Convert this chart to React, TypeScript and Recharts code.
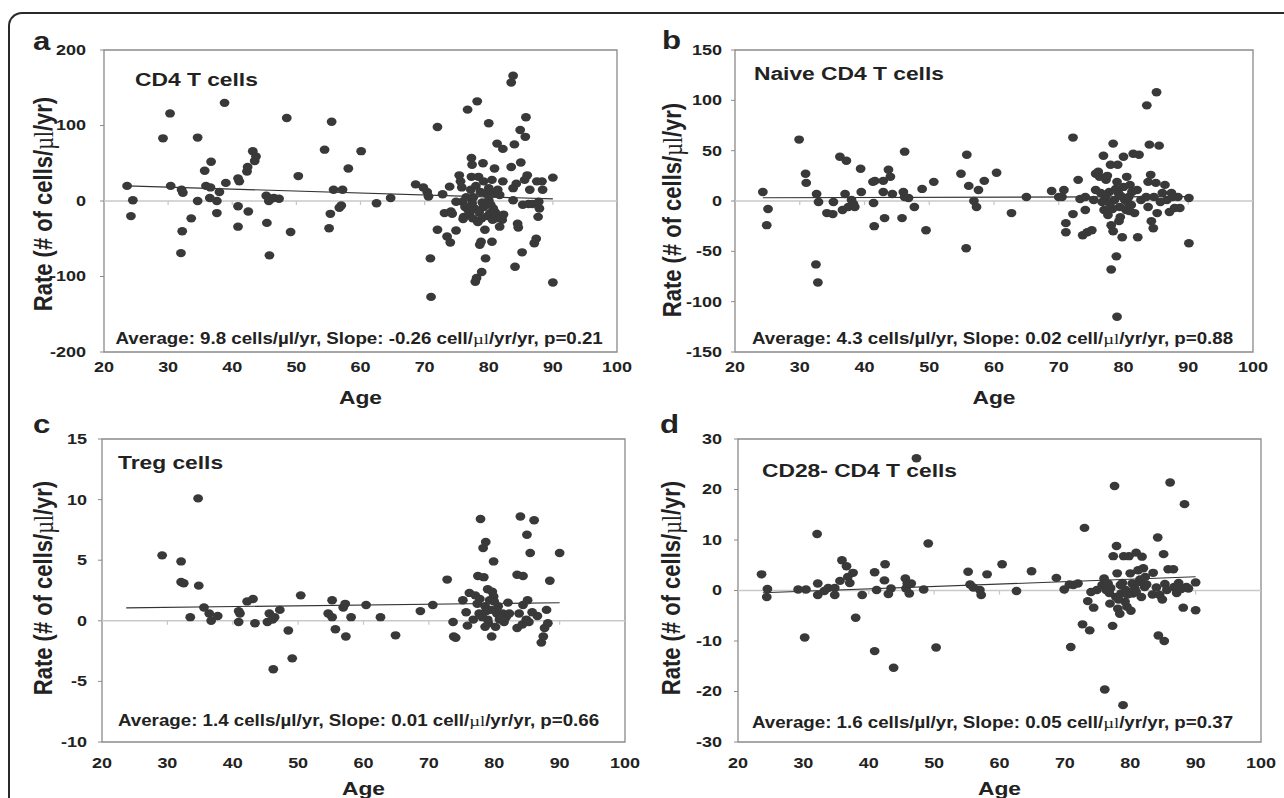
import React from 'react';
import { ScatterChart, Scatter, XAxis, YAxis, ReferenceLine, ReferenceArea, ReferenceDot } from 'recharts';

const ageTicks = [20, 30, 40, 50, 60, 70, 80, 90, 100];
const zeroTickAges = [30, 40, 50, 60, 70, 80, 90];

const cd4TicksY = [-200, -100, 0, 100, 200];
const naiveTicksY = [-150, -100, -50, 0, 50, 100, 150];
const tregTicksY = [-10, -5, 0, 5, 10, 15];
const cd28TicksY = [-30, -20, -10, 0, 10, 20, 30];

const cd4Points: [number, number][] = [
  [23.6,20],[24.5,1],[24.2,-20],[29.2,83],[30.3,116],[30.4,20],[32.1,15],[32.3,11],[32.2,-40],[32.0,-69],[33.6,-23],[34.6,84],[34.6,0],[35.7,40],[35.9,20],[36.7,52],[36.6,18],[36.5,4],[37.6,0],[37.6,-16],[38.0,12],[38.8,130],[39.0,24],[40.9,30],[41.1,26],[40.9,-7],[40.9,-34],[42.3,39],[42.4,45],[42.5,-14],[43.2,66],[43.5,53],[43.7,59],[45.3,7],[45.4,-29],[45.7,0],[45.8,-72],[46.0,3],[46.5,4],[47.3,3],[48.5,110],[49.1,-41],[50.3,33],[54.4,68],[55.1,-36],[55.5,105],[55.3,-17],[55.8,15],[56.7,-9],[57.0,-6],[57.2,15],[58.1,43],[60.1,66],[62.5,-3],[64.7,4],[68.6,22],[69.8,18],[70.4,12],[70.6,6],[70.9,-76],[71.0,-127],[72.0,98],[72.0,-38],[72.8,9],[73.1,-16],[73.5,-47],[74.0,-55],[73.9,19],[74.1,-14],[74.3,-17],[74.9,-39],[74.9,-1],[75.4,34],[75.6,26],[75.8,18],[75.9,-1],[76.0,-24],[76.1,-21],[76.3,-8],[76.7,121],[77.2,15],[77.3,57],[77.4,48],[77.3,32],[77.4,-3],[77.0,-16],[77.5,-23],[77.9,-107],[78.1,-102],[78.2,132],[78.4,32],[78.6,-58],[78.8,-54],[78.9,-94],[78.9,-23],[79.1,50],[79.2,26],[79.2,-8],[79.4,-38],[79.5,-76],[79.6,10],[80.0,103],[80.0,1],[80.0,17],[80.2,-16],[80.5,28],[80.5,-54],[80.7,-10],[80.9,43],[80.8,10],[81.1,-23],[81.3,76],[81.4,15],[81.7,8],[81.7,-34],[82.1,-25],[82.2,69],[82.2,26],[83.5,45],[83.5,157],[83.8,166],[83.8,1],[84.0,75],[84.1,-87],[83.8,17],[84.3,23],[84.5,-30],[84.6,-35],[84.9,94],[85.0,51],[85.2,-68],[85.3,-5],[85.6,28],[85.7,85],[85.8,111],[86.0,34],[86.2,-4],[86.4,15],[86.8,-4],[87.1,-56],[87.4,-50],[87.5,26],[87.7,-21],[87.9,-10],[87.8,-1],[88.3,26],[88.4,15],[90.0,31],[90.0,-108],
  [76.5,5],[77.8,-10],[78.5,-15],[79.8,-20],[78.0,20],[80.3,-5],[81.0,-15],[77.6,5],[79.0,-2],[78.3,-28],[80.6,-25],[76.8,-12],[81.9,-20],[82.3,-18],[78.7,12],
];

const naivePoints: [number, number][] = [
  [24.3,9],[25.1,-8],[24.9,-24],[29.9,61],[30.9,27],[31.0,18],[32.6,7],[32.9,-1],[32.5,-63],[32.8,-81],[34.2,-12],[35.1,-13],[35.2,-1],[36.2,44],[37.2,40],[36.6,-9],[37.0,7],[37.5,-6],[38.0,1],[38.3,-3],[38.5,-6],[39.4,32],[39.5,9],[41.3,19],[41.6,20],[41.4,-2],[41.5,-25],[42.9,20],[42.9,9],[43.1,-17],[43.7,31],[44.0,24],[44.3,7],[45.8,-17],[46.0,9],[46.2,49],[46.2,4],[46.8,3],[47.7,-6],[48.9,12],[49.5,-29],[50.7,19],[54.9,27],[55.8,46],[55.7,-47],[56.1,15],[56.9,0],[57.3,-6],[57.6,11],[58.5,20],[60.4,28],[62.7,-12],[65.0,4],[68.9,10],[70.0,4],[70.8,11],[70.5,4],[71.1,-22],[71.1,-31],[72.2,63],[72.2,-13],[73.0,21],[73.3,2],[73.7,-34],[74.1,-9],[74.1,4],[74.4,-31],[75.1,-29],[75.4,1],[75.7,11],[75.7,27],[76.1,29],[76.3,24],[76.7,-1],[76.9,45],[77.0,-9],[77.3,21],[77.5,25],[77.6,-14],[77.8,9],[78.0,36],[78.1,-24],[78.1,-68],[78.4,57],[78.4,-30],[78.6,1],[78.9,-55],[79.0,19],[79.0,-115],[79.1,36],[79.2,8],[79.4,-6],[79.5,-16],[79.8,-36],[80.0,44],[80.0,14],[80.2,1],[80.5,24],[80.7,-2],[80.8,4],[81.0,16],[81.3,9],[81.5,47],[81.7,-12],[82.1,11],[82.2,-36],[82.4,46],[82.7,1],[83.5,4],[83.6,95],[83.8,-6],[83.8,19],[84.0,56],[84.2,26],[84.3,-20],[84.6,-27],[84.7,4],[85.0,18],[85.1,108],[85.2,-12],[85.5,55],[85.7,-1],[86.0,8],[86.4,16],[86.7,1],[87.1,-11],[87.4,8],[87.6,4],[87.9,-7],[88.4,4],[88.7,-7],[90.1,3],[90.1,-42],
  [77.2,3],[78.3,-8],[79.6,5],[80.4,-9],[78.8,12],[81.2,-4],[77.9,-3],[79.3,-20],[80.9,-10],[76.5,8],
];

const tregPoints: [number, number][] = [
  [29.2,5.4],[32.1,4.9],[32.1,3.2],[32.5,3.1],[33.5,0.3],[34.7,10.1],[34.8,2.9],[35.6,1.1],[36.4,0.6],[36.7,0.0],[37.7,0.4],[40.9,0.8],[41.1,0.6],[40.9,-0.1],[42.2,1.6],[43.1,1.8],[43.4,-0.2],[45.3,-0.1],[45.6,0.6],[46.1,0.1],[46.4,0.3],[46.2,-4.0],[47.2,0.9],[48.5,-0.8],[49.1,-3.1],[50.4,2.1],[54.6,0.6],[55.2,1.7],[55.2,0.3],[55.7,-0.7],[56.9,1.1],[57.2,1.4],[57.3,-1.3],[58.1,0.3],[60.4,1.3],[62.6,0.3],[64.9,-1.2],[68.7,0.8],[70.6,1.3],[72.8,3.4],[73.7,-0.1],[73.8,-1.3],[74.1,-1.4],[75.2,1.7],[75.7,0.7],[75.9,-0.4],[76.2,2.3],[76.8,0.1],[77.1,2.1],[77.4,1.4],[77.5,3.7],[77.7,0.6],[77.9,8.4],[78.3,6.0],[78.4,3.6],[78.6,1.2],[78.6,-0.5],[78.7,6.5],[78.8,0.8],[79.0,0.1],[79.0,2.6],[79.3,1.7],[79.6,-1.3],[79.7,2.4],[79.9,4.9],[79.9,2.0],[80.0,1.6],[80.2,-0.5],[80.4,0.6],[80.8,0.1],[81.3,0.6],[81.5,-0.1],[81.8,0.3],[82.1,1.5],[82.3,0.6],[83.5,-0.6],[83.5,3.8],[83.8,0.6],[84.0,8.6],[84.3,-0.3],[84.4,3.7],[84.4,1.3],[84.9,0.1],[85.0,7.1],[85.1,1.7],[85.3,-0.1],[85.5,5.6],[85.8,0.7],[86.1,8.3],[86.6,0.4],[87.2,-1.8],[87.5,-1.3],[87.7,-0.6],[88.0,0.9],[88.2,-0.2],[88.5,3.3],[90.0,5.6],
  [78.2,0.3],[79.5,0.9],[80.6,1.2],[77.8,1.8],[81.0,0.2],[79.1,-0.2],
];

const cd28Points: [number, number][] = [
  [23.6,3.2],[24.5,0.3],[24.4,-1.3],[29.2,0.2],[30.4,0.2],[30.2,-9.3],[32.1,11.2],[32.2,1.4],[32.2,-0.9],[33.2,-0.1],[33.8,0.5],[34.8,-0.9],[34.8,0.5],[35.6,1.9],[35.9,6.0],[36.6,4.8],[36.8,2.7],[37.1,1.5],[37.6,3.5],[38.0,-5.4],[39.0,-0.9],[40.9,3.6],[40.9,-12.0],[41.2,0.1],[42.4,2.0],[42.5,5.2],[43.0,-0.7],[43.4,0.4],[43.8,-15.3],[45.6,2.4],[45.7,0.4],[45.9,1.4],[46.2,-0.6],[46.5,1.4],[47.3,26.2],[48.4,0.2],[49.1,9.3],[50.3,-11.3],[55.2,3.7],[55.5,1.2],[56.0,0.6],[57.0,0.1],[57.2,-0.9],[58.1,3.2],[60.4,5.2],[62.6,-0.1],[64.9,3.8],[68.7,2.5],[69.9,0.2],[70.9,-11.2],[70.7,1.2],[71.3,1.1],[72.0,1.4],[72.7,-6.7],[73.0,12.4],[73.5,-2.1],[73.8,-7.9],[74.0,-0.3],[74.4,-3.4],[74.9,0.1],[75.7,1.1],[76.0,2.4],[76.1,-19.6],[76.3,0.1],[76.6,1.4],[76.9,-2.6],[77.3,-7.0],[77.4,6.8],[77.6,20.7],[77.8,-1.3],[77.9,8.8],[78.0,3.4],[78.1,-3.6],[78.4,-4.6],[78.5,1.1],[78.6,-0.6],[78.9,-22.7],[79.0,6.8],[79.2,-2.2],[79.3,0.1],[79.5,-3.2],[79.8,6.8],[80.0,3.4],[80.1,-4.0],[80.3,1.4],[80.4,-0.6],[80.7,0.4],[80.9,7.5],[81.2,4.0],[81.4,1.7],[81.7,-1.3],[81.8,6.7],[82.0,4.4],[82.2,0.7],[82.3,2.7],[83.4,-0.8],[83.5,3.5],[84.0,0.6],[84.2,10.5],[84.3,-8.9],[84.5,-0.9],[84.9,-1.8],[85.1,7.2],[85.2,-10.0],[85.3,1.3],[85.6,0.1],[85.8,4.2],[86.1,21.4],[86.6,4.2],[86.7,0.7],[87.1,-0.5],[87.4,1.5],[87.8,0.3],[88.1,-3.4],[88.3,17.1],[88.6,0.7],[88.9,0.4],[90.0,1.6],[90.0,-3.9],
  [77.0,0.5],[78.8,1.5],[79.6,-0.8],[80.9,-0.3],[81.5,2.2],[78.2,-1.8],[76.8,-0.5],[82.5,1.2],
];

const cd4Fit: [number, number][] = [[23.6, 20.0], [90.0, 2.8]];
const naiveFit: [number, number][] = [[24.3, 3.2], [90.1, 4.3]];
const tregFit: [number, number][] = [[23.7, 1.07], [90.0, 1.49]];
const cd28Fit: [number, number][] = [[23.8, -0.46], [90.0, 2.72]];

const FONT = '"Liberation Sans", Arial, Helvetica, sans-serif';
const TXT = '#222';
const SX = 1.2;

const Dot = (props: any) => {
  const { cx, cy } = props;
  if (cx == null || cy == null) return null;
  return <ellipse cx={cx} cy={cy} rx={4.9} ry={4.2} fill="#393939" />;
};

const ZeroTick = (props: any) => {
  const { cx, cy } = props;
  if (cx == null || cy == null) return null;
  return <line x1={cx} y1={cy} x2={cx} y2={cy + 4} stroke="#c6c6c6" strokeWidth={1.2} />;
};

const XTick = (props: any) => {
  const { x, y, payload, gap } = props;
  return (
    <text transform={`translate(${x},${y + gap}) scale(${SX},1)`} textAnchor="middle" dominantBaseline="central"
      fontFamily={FONT} fontWeight="bold" fontSize={15} fill={TXT}>{payload.value}</text>
  );
};

const YTick = (props: any) => {
  const { x, y, payload } = props;
  return (
    <text transform={`translate(${x},${y}) scale(${SX},1)`} textAnchor="end" dominantBaseline="central"
      fontFamily={FONT} fontWeight="bold" fontSize={15} fill={TXT}>{payload.value}</text>
  );
};

type Rect = { left: number; top: number; right: number; bottom: number };

function Panel(props: { rect: Rect; yDomain: [number, number]; yTicks: number[]; points: [number, number][]; fit: [number, number][]; yGap: number; xGap: number }) {
  const { rect, yDomain, yTicks, points, fit, yGap, xGap } = props;
  const ML = 70, MT = 45, MR = 20, XH = 30;
  const w = rect.right - rect.left;
  const h = rect.bottom - rect.top;
  const W = ML + w + MR;
  const H = MT + h + XH;
  const data = points.map(([age, rate]) => ({ age, rate }));
  return (
    <div style={{ position: 'absolute', left: rect.left - ML, top: rect.top - MT }}>
      <ScatterChart width={W} height={H} margin={{ top: MT, right: MR, bottom: 0, left: 0 }}>
        <XAxis type="number" dataKey="age" domain={[20, 100]} ticks={ageTicks} interval={0} height={XH}
          axisLine={false} tickLine={false} tickSize={0} tickMargin={0} tick={<XTick gap={xGap} />} allowDataOverflow />
        <YAxis type="number" dataKey="rate" domain={yDomain} ticks={yTicks} interval={0} width={ML}
          axisLine={false} tickLine={{ stroke: '#8c8c8c' }} tickSize={4} tickMargin={yGap - 4} tick={<YTick />} allowDataOverflow />
        <ReferenceArea x1={20} x2={100} y1={yDomain[0]} y2={yDomain[1]} fill="none" fillOpacity={0} stroke="#8a8a8a" strokeWidth={1.3} />
        <ReferenceLine y={0} stroke="#c9c9c9" strokeWidth={1.6} />
        {zeroTickAges.map((a) => (
          <ReferenceDot key={a} x={a} y={0} r={1} shape={ZeroTick} />
        ))}
        <Scatter data={data} shape={Dot} isAnimationActive={false} />
        <ReferenceLine segment={[{ x: fit[0][0], y: fit[0][1] }, { x: fit[1][0], y: fit[1][1] }]} stroke="#333" strokeWidth={1.1} />
      </ScatterChart>
    </div>
  );
}

const T = (p: { x: number; y: number; size: number; children: React.ReactNode; anchor?: string }) => (
  <text transform={`translate(${p.x},${p.y}) scale(${SX},1)`} fontFamily={FONT} fontWeight="bold" fontSize={p.size}
    fill={TXT} textAnchor={(p.anchor as any) || 'start'}>{p.children}</text>
);

const thin = { fontFamily: '"Liberation Serif", "DejaVu Serif", serif', fontWeight: 'normal' as const };

const Annot = (p: { x: number; y: number; avg: string; slope: string; pv: string }) => (
  <T x={p.x} y={p.y} size={15.6}>
    {`Average: ${p.avg} cells/µl/yr, Slope: ${p.slope} cell/`}
    <tspan {...thin}>µl</tspan>
    {`/yr/yr, p=${p.pv}`}
  </T>
);

const YTitle = (p: { x: number; y: number }) => (
  <text transform={`translate(${p.x},${p.y}) scale(${SX},1) rotate(-90)`} fontFamily={FONT} fontWeight="bold" fontSize={22}
    fill={TXT} textAnchor="middle" dominantBaseline="central">
    Rate (# of cells/<tspan {...thin}>µl</tspan>/yr)
  </text>
);

export default function App() {
  const rA = { left: 104, top: 50, right: 617, bottom: 352 };
  const rB = { left: 735, top: 50, right: 1253, bottom: 352 };
  const rC = { left: 102, top: 439, right: 625, bottom: 742 };
  const rD = { left: 738, top: 439, right: 1261, bottom: 742 };
  return (
    <div style={{ position: 'absolute', left: 0, top: 0, width: 1284, height: 798, overflow: 'hidden', background: '#fff' }}>
      <div style={{ position: 'absolute', left: 8, top: 12, width: 1320, height: 820, borderTop: '2px solid #2a2a2a', borderLeft: '2px solid #2a2a2a', borderTopLeftRadius: 14, boxSizing: 'border-box' }} />
      <svg width={1284} height={798} style={{ position: 'absolute', left: 0, top: 0 }}>
        <T x={33} y={50} size={26}>a</T>
        <T x={662} y={49} size={26}>b</T>
        <T x={33} y={433} size={26}>c</T>
        <T x={660} y={433} size={26}>d</T>

        <T x={135} y={86} size={19}>CD4 T cells</T>
        <T x={754} y={80} size={19}>Naive CD4 T cells</T>
        <T x={118} y={469} size={19}>Treg cells</T>
        <T x={762} y={477} size={19}>CD28- CD4 T cells</T>

        <Annot x={115.5} y={344} avg="9.8" slope="-0.26" pv="0.21" />
        <Annot x={752} y={344} avg="4.3" slope="0.02" pv="0.88" />
        <Annot x={118} y={726} avg="1.4" slope="0.01" pv="0.66" />
        <Annot x={752} y={728} avg="1.6" slope="0.05" pv="0.37" />

        <YTitle x={43} y={204} />
        <YTitle x={672} y={210} />
        <YTitle x={43} y={588} />
        <YTitle x={671} y={588} />

        <T x={(rA.left + rA.right) / 2} y={404} size={19} anchor="middle">Age</T>
        <T x={(rB.left + rB.right) / 2} y={404} size={19} anchor="middle">Age</T>
        <T x={(rC.left + rC.right) / 2} y={795} size={19} anchor="middle">Age</T>
        <T x={(rD.left + rD.right) / 2} y={795} size={19} anchor="middle">Age</T>
      </svg>
      <Panel rect={rA} yDomain={[-200, 200]} yTicks={cd4TicksY} points={cd4Points} fit={cd4Fit} yGap={18} xGap={15} />
      <Panel rect={rB} yDomain={[-150, 150]} yTicks={naiveTicksY} points={naivePoints} fit={naiveFit} yGap={13} xGap={15} />
      <Panel rect={rC} yDomain={[-10, 15]} yTicks={tregTicksY} points={tregPoints} fit={tregFit} yGap={15} xGap={21} />
      <Panel rect={rD} yDomain={[-30, 30]} yTicks={cd28TicksY} points={cd28Points} fit={cd28Fit} yGap={16} xGap={21} />
    </div>
  );
}
